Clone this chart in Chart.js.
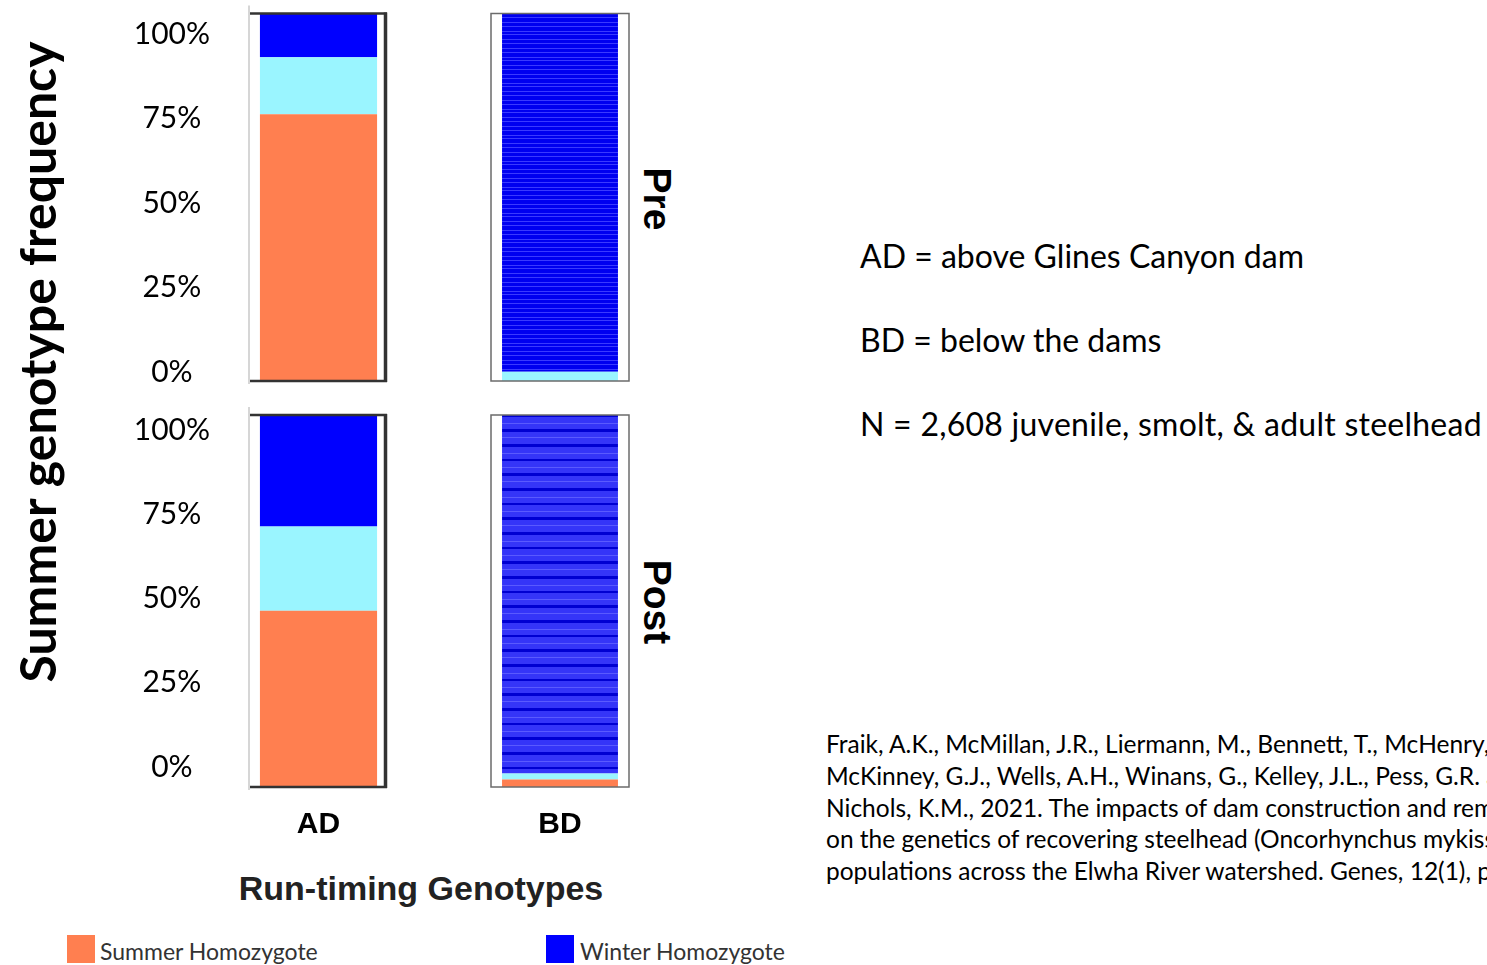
<!DOCTYPE html>
<html lang="en">
<head>
    <meta charset="UTF-8">
    <title>Run-timing Genotypes - Elwha steelhead</title>
    <style>
        html, body { margin: 0; padding: 0; background: #fff; overflow: hidden; }
        body { width: 1487px; height: 965px; position: relative; font-family: Lato, "Open Sans", sans-serif; color: #000; }
        canvas { position: absolute; }
        .txt { position: absolute; white-space: nowrap; }
        .rot { transform: translate(-50%, -50%) rotate(-90deg); }
        .rot90 { transform: translate(-50%, -50%) rotate(90deg); }
        .ctr { transform: translate(-50%, -50%); }
        .swatch { position: absolute; width: 28px; height: 28px; }
    </style>
    <script src="https://cdn.jsdelivr.net/npm/chart.js"></script>
</head>
<body>

    <!-- four panels: Pre/Post x AD/BD -->
    <canvas id="preAD" width="295" height="395" style="left:100px; top:0px;"></canvas>
    <canvas id="preBD" width="150" height="395" style="left:485px; top:0px;"></canvas>
    <canvas id="postAD" width="295" height="447" style="left:100px; top:400px;"></canvas>
    <canvas id="postBD" width="150" height="447" style="left:485px; top:400px;"></canvas>

    <div class="txt rot" style="left:37px; top:362px; font-weight:700; font-size:50px;">Summer genotype frequency</div>
    <div class="txt rot90" style="left:657px; top:199px; font-family:'Liberation Sans'; font-weight:700; font-size:39px;">Pre</div>
    <div class="txt rot90" style="left:657px; top:602px; font-family:'Liberation Sans'; font-weight:700; font-size:39px;">Post</div>
    <div class="txt ctr" style="left:421px; top:888px; font-family:'Liberation Sans'; font-weight:700; font-size:34px; color:#222;">Run-timing Genotypes</div>

    <div class="txt" style="left:860px; top:237px; font-size:32px; line-height:38px;">AD = above Glines Canyon dam</div>
    <div class="txt" style="left:860px; top:321px; font-size:32px; line-height:38px;">BD = below the dams</div>
    <div class="txt" style="left:860px; top:405px; font-size:32px; line-height:38px; letter-spacing:0.25px;">N = 2,608 juvenile, smolt, &amp; adult steelhead</div>

    <div class="txt" style="left:826px; top:728px; font-size:24.5px; line-height:31.75px;">
        Fraik, A.K., McMillan, J.R., Liermann, M., Bennett, T., McHenry, M.L.,<br>
        McKinney, G.J., Wells, A.H., Winans, G., Kelley, J.L., Pess, G.R. and<br>
        Nichols, K.M., 2021. The impacts of dam construction and removal<br>
        on the genetics of recovering steelhead (Oncorhynchus mykiss)<br>
        populations across the Elwha River watershed. Genes, 12(1), p.89.
    </div>

    <div id="legend"></div>

    <script>
        // ---- data (percent of fish per genotype) ----
        const sites = ['AD', 'BD'];
        const genotypes = ['Summer Homozygote', 'Heterozygote', 'Winter Homozygote'];
        const preSummer = [72.6, 0];
        const preHet = [15.5, 2.5];
        const preWinter = [11.9, 97.5];
        const postSummer = [47.4, 2.0];
        const postHet = [22.6, 1.6];
        const postWinter = [30.0, 96.4];
        const tickValues = [0, 25, 50, 75, 100];

        const colors = ['#ff7f50', '#9af5ff', '#0000ff'];

        // striped fill for the BD (individual-level) panels
        function stripePattern(base, stripes, period) {
            const c = document.createElement('canvas');
            c.width = 4; c.height = period;
            const g = c.getContext('2d');
            g.fillStyle = base;
            g.fillRect(0, 0, 4, period);
            stripes.forEach(s => { g.fillStyle = s.c; g.fillRect(0, s.y, 4, s.h); });
            return g.createPattern(c, 'repeat');
        }
        const preStripes = stripePattern('#0000f0', [
            {y: 0, h: 1, c: '#3a3aff'}, {y: 5, h: 1, c: '#3a3aff'}, {y: 8, h: 1, c: '#3a3aff'},
            {y: 13, h: 1, c: '#3a3aff'}, {y: 17, h: 1, c: '#3a3aff'}, {y: 22, h: 1, c: '#3a3aff'}
        ], 26);
        const postStripes = stripePattern('#3535f8', [
            {y: 0, h: 3, c: '#0000d2'}, {y: 9, h: 1, c: '#5a5aff'}, {y: 15, h: 2, c: '#0000d2'},
            {y: 23, h: 1, c: '#5a5aff'}, {y: 29, h: 3, c: '#0000d2'}, {y: 37, h: 1, c: '#5a5aff'}
        ], 44);

        // frame around each panel
        const boxPlugin = {
            id: 'panelBox',
            afterDraw(chart, args, opts) {
                const ctx = chart.ctx;
                const a = chart.chartArea;
                const line = (x1, y1, x2, y2) => { ctx.beginPath(); ctx.moveTo(x1, y1); ctx.lineTo(x2, y2); ctx.stroke(); };
                ctx.save();
                if (opts.kind === 'ad') {
                    ctx.strokeStyle = '#c8c8c8';
                    ctx.lineWidth = 1.5;
                    line(a.left - 1, a.top - 8, a.left - 1, a.bottom + 3);
                    ctx.strokeStyle = '#333';
                    ctx.lineWidth = 2.5;
                    line(a.left, a.top, a.right, a.top);
                    line(a.left, a.bottom, a.right, a.bottom);
                    ctx.lineWidth = 3.5;
                    line(a.right - 1.5, a.top - 1, a.right - 1.5, a.bottom + 1);
                } else {
                    ctx.strokeStyle = '#6b6b6b';
                    ctx.lineWidth = 1.5;
                    ctx.strokeRect(a.left, a.top, a.right - a.left, a.bottom - a.top);
                }
                ctx.restore();
            }
        };

        function makePanel(id, siteIdx, summer, het, winter, opt) {
            const isAD = siteIdx === 0;
            const winterFill = isAD ? colors[2] : opt.stripes;
            const values = [summer[siteIdx], het[siteIdx], winter[siteIdx]];
            const fills = [colors[0], colors[1], winterFill];
            return new Chart(document.getElementById(id), {
                type: 'bar',
                data: {
                    labels: [sites[siteIdx]],
                    datasets: genotypes.map((g, i) => ({
                        label: g,
                        data: [values[i]],
                        backgroundColor: fills[i],
                        borderWidth: 0,
                        barPercentage: 1,
                        categoryPercentage: isAD ? 0.855 : 0.84,
                        yAxisID: 'y'
                    }))
                },
                options: {
                    responsive: false,
                    animation: false,
                    layout: { padding: opt.padding },
                    plugins: {
                        legend: { display: false },
                        tooltip: { enabled: false },
                        panelBox: { kind: isAD ? 'ad' : 'bd' }
                    },
                    scales: {
                        x: {
                            stacked: true,
                            display: opt.showX,
                            grid: { display: false, drawTicks: false },
                            border: { display: false },
                            ticks: {
                                padding: 20,
                                color: '#000',
                                font: { family: 'Liberation Sans', weight: 'bold', size: 30 }
                            },
                            afterFit: s => {
                                if (!opt.showX) return;
                                s.height = 60; s.paddingLeft = 0; s.paddingRight = 0;
                            }
                        },
                        y: {
                            stacked: true,
                            display: false,
                            min: 0,
                            max: 100
                        },
                        yl: {
                            type: 'linear',
                            position: 'left',
                            display: isAD,
                            min: isAD ? opt.labelMin : 0,
                            max: isAD ? opt.labelMax : 100,
                            grid: { display: false, drawTicks: false },
                            border: { display: false },
                            afterBuildTicks: s => { s.ticks = tickValues.map(v => ({ value: v })); },
                            ticks: {
                                crossAlign: 'center',
                                padding: 40,
                                color: '#000',
                                font: { family: 'Lato', size: 30 },
                                callback: v => v + '%'
                            },
                            afterFit: s => {
                                if (!isAD) return;
                                s.width = 150; s.paddingTop = 0; s.paddingBottom = 0;
                            }
                        }
                    }
                },
                plugins: [boxPlugin]
            });
        }

        makePanel('preAD', 0, preSummer, preHet, preWinter,
            { padding: { top: 13.5, bottom: 14, right: 8 }, showX: false, labelMin: -2.66, labelMax: 106.07 });
        makePanel('preBD', 1, preSummer, preHet, preWinter,
            { padding: { top: 13.5, bottom: 14, left: 6, right: 6 }, showX: false, stripes: preStripes });
        makePanel('postAD', 0, postSummer, postHet, postWinter,
            { padding: { top: 15, bottom: 0, right: 8 }, showX: true, labelMin: -5.93, labelMax: 104.45 });
        makePanel('postBD', 1, postSummer, postHet, postWinter,
            { padding: { top: 15, bottom: 0, left: 6, right: 6 }, showX: true, stripes: postStripes });

        // legend row along the bottom (summer and winter homozygotes)
        const legend = document.getElementById('legend');
        [[0, 67, 100], [2, 546, 580]].forEach(([gi, sx, tx]) => {
            const sw = document.createElement('div');
            sw.className = 'swatch';
            sw.style.left = sx + 'px';
            sw.style.top = '935px';
            sw.style.background = colors[gi];
            legend.appendChild(sw);
            const t = document.createElement('div');
            t.className = 'txt';
            t.style.left = tx + 'px';
            t.style.top = '937px';
            t.style.fontSize = '23px';
            t.style.lineHeight = '28px';
            t.style.color = '#333';
            t.textContent = genotypes[gi];
            legend.appendChild(t);
        });
    </script>

</body>
</html>
